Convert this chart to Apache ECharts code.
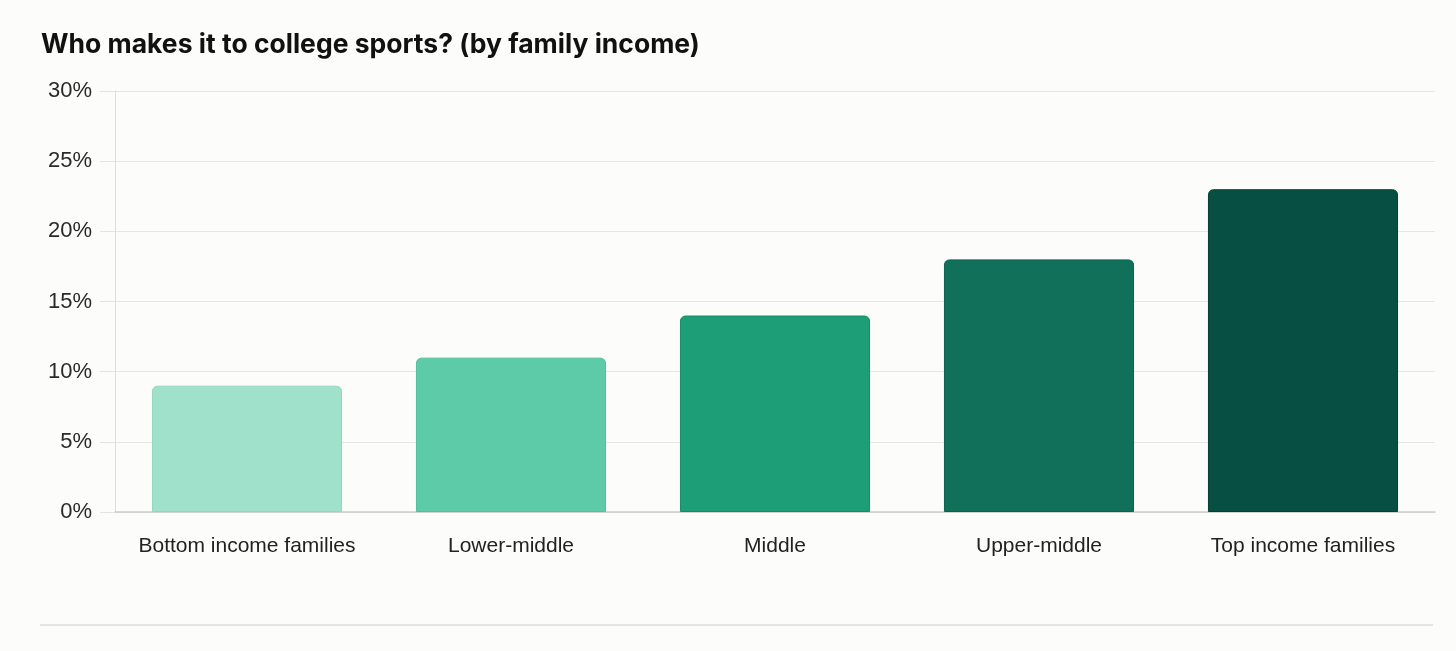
<!DOCTYPE html>
<html><head><meta charset="utf-8">
<script src="https://cdn.jsdelivr.net/npm/echarts@6/dist/echarts.min.js"></script>
<style>html,body{margin:0;padding:0;background:#fcfcfa;}#c{width:1456px;height:651px;}</style>
</head><body><div id="c"></div>
<script>
const categories = ['Bottom income families', 'Lower-middle', 'Middle', 'Upper-middle', 'Top income families'];
const values = [9, 11, 14, 18, 23];
const barColors = ['#a0e1cb', '#5ecba8', '#1d9e76', '#10705a', '#074f42'];
const borderColors = ['#94d6c0', '#52bf9c', '#168a66', '#0b6150', '#053f34'];
const yTicks = [0, 5, 10, 15, 20, 25, 30];

const chart = echarts.init(document.getElementById('c'));
chart.setOption({
  backgroundColor: '#fcfcfa',
  animation: false,
  title: {
    text: 'Who makes it to college sports? (by family income)',
    left: 36, top: 27,
    textStyle: { fontFamily: 'Inter', fontWeight: 700, fontSize: 26.5, color: '#111', letterSpacing: -0.2 }
  },
  grid: { left: 115, right: 21, top: 91, bottom: 139, containLabel: false },
  xAxis: {
    type: 'category', data: categories,
    axisLine: { lineStyle: { color: '#cccccc', width: 1.5 } },
    axisTick: { show: false },
    axisLabel: { interval: 0, color: '#222', fontSize: 21, fontFamily: 'Liberation Sans, Arial, sans-serif', margin: 24 }
  },
  yAxis: {
    type: 'value', min: yTicks[0], max: yTicks[yTicks.length - 1], interval: 5,
    axisLine: { show: true, lineStyle: { color: '#dddddd' } },
    axisTick: { show: true, length: 15, lineStyle: { color: '#e3e3e3' } },
    splitLine: { lineStyle: { color: '#e6e6e6' } },
    axisLabel: { formatter: '{value}%', color: '#2a2a2a', fontSize: 22, fontFamily: 'Liberation Sans, Arial, sans-serif', margin: 23 }
  },
  series: [{
    type: 'bar',
    barWidth: '72%',
    data: values.map((v, i) => ({
      value: v,
      itemStyle: { color: barColors[i], borderColor: borderColors[i], borderWidth: 1, borderRadius: [5, 5, 0, 0] }
    }))
  }],
  graphic: [{
    type: 'line', shape: { x1: 40, y1: 625, x2: 1433, y2: 625 },
    style: { stroke: '#dddddd', lineWidth: 1.5 }
  }]
});
</script></body></html>
